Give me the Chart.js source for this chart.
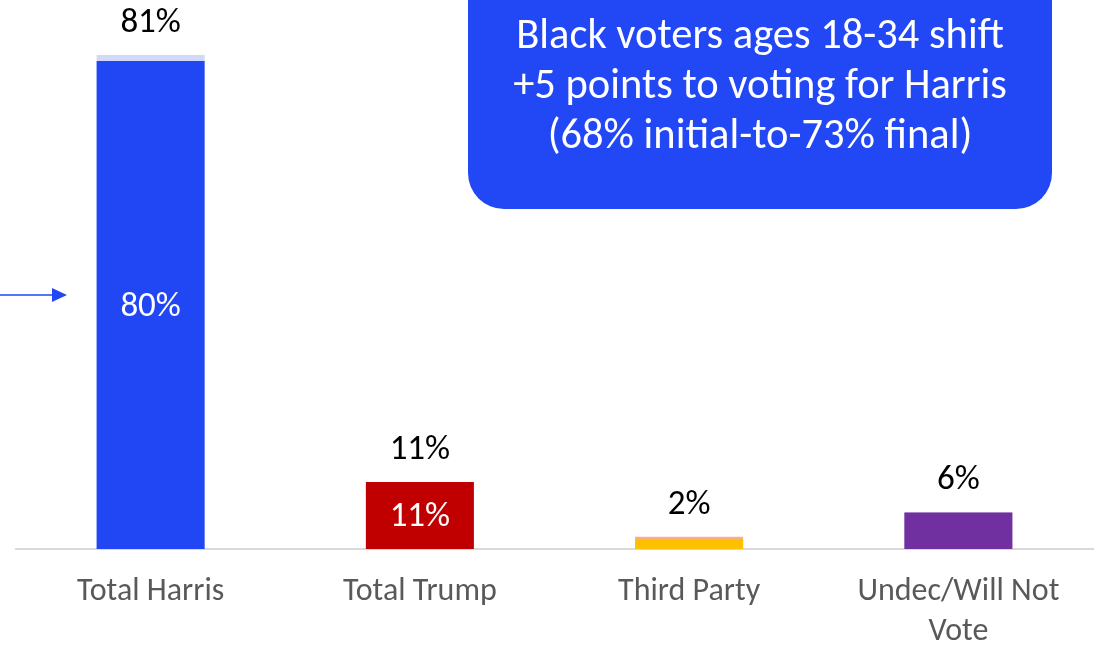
<!DOCTYPE html>
<html>
<head>
<meta charset="utf-8">
<script src="https://cdn.jsdelivr.net/npm/chart.js@4.4.1/dist/chart.umd.min.js"></script>
<style>
  html, body { margin: 0; padding: 0; background: #ffffff; }
  #wrap { position: relative; width: 1107px; height: 645px; }
</style>
</head>
<body>
<div id="wrap"><canvas id="chart" width="1107" height="645"></canvas></div>
<script>
// Vote choice, Black voters
const categories = ['Total Harris', 'Total Trump', 'Third Party', ['Undec/Will Not', 'Vote']];
const solidValues = [80, 11, 1.7, 6];
const totalValues = [81, 11, 2, 6];
const insideLabels = ['80%', '11%', '', ''];
const topLabels = ['81%', '11%', '2%', '6%'];

const solidColors = ['#2147F5', '#C00000', '#FFC000', '#7030A0'];
const totalColors = ['#D0D9F9', '#F2B8B8', '#F6AAA6', '#D4C0E4'];

const calloutLines = [
  'Black voters ages 18-34 shift',
  '+5 points to voting for Harris',
  '(68% initial-to-73% final)'
];

const FONT = 'Carlito, Calibri, Lato, sans-serif';

const valueLabels = {
  id: 'valueLabels',
  afterDatasetsDraw(chart) {
    const ctx = chart.ctx;
    const front = chart.getDatasetMeta(0);
    const back = chart.getDatasetMeta(1);
    ctx.save();
    ctx.font = '35px ' + FONT;
    ctx.textAlign = 'center';
    back.data.forEach((bar, i) => {
      ctx.fillStyle = '#000000';
      ctx.textBaseline = 'alphabetic';
      ctx.fillText(topLabels[i], bar.x, bar.y - 23);
    });
    front.data.forEach((bar, i) => {
      if (!insideLabels[i]) return;
      ctx.fillStyle = '#ffffff';
      ctx.textBaseline = 'middle';
      ctx.fillText(insideLabels[i], bar.x, (bar.y + bar.base) / 2 + 2);
    });
    ctx.restore();
  }
};

const callout = {
  id: 'callout',
  afterDraw(chart) {
    const ctx = chart.ctx;
    ctx.save();
    // rounded callout box
    const x0 = 468, x1 = 1052, y0 = -60, y1 = 209, r = 36;
    ctx.fillStyle = '#2247F5';
    ctx.beginPath();
    ctx.moveTo(x0 + r, y0);
    ctx.lineTo(x1 - r, y0);
    ctx.quadraticCurveTo(x1, y0, x1, y0 + r);
    ctx.lineTo(x1, y1 - r);
    ctx.arcTo(x1, y1, x1 - r, y1, r);
    ctx.lineTo(x0 + r, y1);
    ctx.arcTo(x0, y1, x0, y1 - r, r);
    ctx.lineTo(x0, y0);
    ctx.closePath();
    ctx.fill();
    ctx.fillStyle = '#ffffff';
    ctx.font = '42.5px ' + FONT;
    ctx.textAlign = 'center';
    ctx.textBaseline = 'middle';
    calloutLines.forEach((t, i) => ctx.fillText(t, 760, 37 + i * 50));

    // pointer arrow toward the Harris bar
    ctx.strokeStyle = '#2247F5';
    ctx.fillStyle = '#2247F5';
    ctx.lineWidth = 1.5;
    ctx.beginPath();
    ctx.moveTo(0, 295);
    ctx.lineTo(54, 295);
    ctx.stroke();
    ctx.beginPath();
    ctx.moveTo(52, 288);
    ctx.lineTo(67, 295);
    ctx.lineTo(52, 302);
    ctx.closePath();
    ctx.fill();
    ctx.restore();
  }
};

new Chart(document.getElementById('chart'), {
  type: 'bar',
  data: {
    labels: categories,
    datasets: [
      {
        label: 'Shown',
        data: solidValues,
        backgroundColor: solidColors,
        grouped: false,
        categoryPercentage: 1,
        barPercentage: 0.401
      },
      {
        label: 'Total',
        data: totalValues,
        backgroundColor: totalColors,
        grouped: false,
        categoryPercentage: 1,
        barPercentage: 0.401
      }
    ]
  },
  options: {
    responsive: false,
    animation: false,
    layout: { padding: { left: 16, right: 14, top: 0, bottom: 0 } },
    plugins: {
      legend: { display: false },
      tooltip: { enabled: false }
    },
    scales: {
      x: {
        grid: { display: false, drawTicks: false },
        border: { display: true, color: '#D9D9D9', width: 2 },
        ticks: {
          color: '#595959',
          font: { family: FONT, size: 32, lineHeight: 1.25 },
          padding: 23,
          maxRotation: 0,
          autoSkip: false
        },
        afterFit(scale) { scale.height = 96; }
      },
      y: {
        display: false,
        min: 0,
        max: 90
      }
    }
  },
  plugins: [valueLabels, callout]
});
</script>
</body>
</html>
